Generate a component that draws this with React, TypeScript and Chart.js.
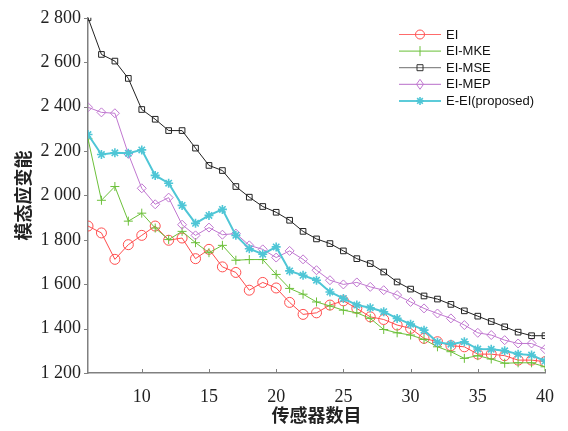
import React, { useEffect, useRef } from "react";
import { Chart, registerables } from "chart.js";

Chart.register(...registerables);

const sensorCounts = Array.from({ length: 35 }, (_, i) => 6 + i);
const xTickValues = [10, 15, 20, 25, 30, 35, 40];
const yTickValues = [1200, 1400, 1600, 1800, 2000, 2200, 2400, 2600, 2800];

const seriesEI = [1862, 1831, 1712, 1778, 1820, 1862, 1798, 1808, 1715, 1757, 1678, 1653, 1573, 1608, 1583, 1518, 1464, 1471, 1506, 1525, 1491, 1453, 1441, 1416, 1401, 1356, 1341, 1323, 1318, 1285, 1285, 1278, 1258, 1258, 1251];
const seriesMKE = [2255, 1978, 2040, 1884, 1920, 1853, 1801, 1838, 1787, 1742, 1775, 1708, 1711, 1711, 1644, 1581, 1555, 1520, 1502, 1483, 1471, 1446, 1396, 1381, 1371, 1351, 1318, 1296, 1266, 1278, 1263, 1244, 1246, 1246, 1228];
const seriesMSE = [2800, 2635, 2605, 2527, 2387, 2343, 2292, 2292, 2213, 2135, 2112, 2040, 1992, 1950, 1924, 1888, 1838, 1804, 1783, 1750, 1715, 1693, 1655, 1610, 1578, 1547, 1533, 1509, 1480, 1456, 1432, 1408, 1384, 1368, 1368];
const seriesMEP = [2397, 2374, 2370, 2187, 2032, 1960, 1990, 1868, 1820, 1855, 1823, 1828, 1775, 1757, 1720, 1750, 1712, 1663, 1618, 1599, 1608, 1588, 1573, 1551, 1520, 1491, 1468, 1446, 1416, 1381, 1371, 1348, 1333, 1333, 1307];
const seriesEEI = [2274, 2184, 2192, 2190, 2205, 2090, 2055, 1955, 1874, 1910, 1937, 1820, 1760, 1735, 1768, 1660, 1640, 1618, 1565, 1536, 1506, 1494, 1476, 1446, 1420, 1393, 1338, 1330, 1341, 1308, 1307, 1300, 1285, 1281, 1254];

const seriesNames = ["EI", "EI-MKE", "EI-MSE", "EI-MEP", "E-EI(proposed)"];
const xTitle = "传感器数目";
const yTitle = "模态应变能";

const COLORS = ["#ff4d4d", "#6cc03a", "#222222", "#c077d0", "#4fc6d6"];
const LEGEND_LINE = ["#ff6b6b", "#86cc5e", "#8a8a8a", "#c68ad4", "#5ccbd9"];
const STYLES = ["circle", "cross", "rect", "rectRot", "star"];

function fmt(v: number) {
  const s = String(Math.round(v));
  return s.length > 3 ? s.slice(0, s.length - 3) + " " + s.slice(-3) : s;
}

function drawMarker(ctx: CanvasRenderingContext2D, style: string, x: number, y: number, color: string) {
  ctx.save();
  ctx.strokeStyle = color;
  ctx.lineWidth = 1;
  ctx.beginPath();
  if (style === "circle") {
    ctx.arc(x, y, 4.5, 0, Math.PI * 2);
  } else if (style === "cross") {
    ctx.moveTo(x, y - 5);
    ctx.lineTo(x, y + 5);
  } else if (style === "rect") {
    ctx.rect(x - 3, y - 3, 6, 6);
  } else if (style === "rectRot") {
    ctx.moveTo(x, y - 5);
    ctx.lineTo(x + 3.5, y);
    ctx.lineTo(x, y + 5);
    ctx.lineTo(x - 3.5, y);
    ctx.closePath();
  } else if (style === "star") {
    ctx.lineWidth = 1.6;
    for (let k = 0; k < 4; k++) {
      const a = (k * Math.PI) / 4;
      ctx.moveTo(x - 4 * Math.cos(a), y - 4 * Math.sin(a));
      ctx.lineTo(x + 4 * Math.cos(a), y + 4 * Math.sin(a));
    }
  }
  ctx.stroke();
  ctx.restore();
}

const decorPlugin = {
  id: "decor",
  afterDraw(chart: any) {
    const ctx = chart.ctx as CanvasRenderingContext2D;
    const xs = chart.scales.x;
    const ys = chart.scales.y;
    const area = chart.chartArea;
    ctx.save();
    // tick marks
    ctx.strokeStyle = "#808080";
    ctx.lineWidth = 1;
    ctx.beginPath();
    xTickValues.forEach((v) => {
      const px = Math.round(xs.getPixelForValue(v)) + 0.5;
      ctx.moveTo(px, area.bottom);
      ctx.lineTo(px, area.bottom - 4);
    });
    yTickValues.forEach((v) => {
      const py = Math.round(ys.getPixelForValue(v)) + 0.5;
      ctx.moveTo(area.left, py);
      ctx.lineTo(area.left - 4, py);
    });
    ctx.stroke();

    // axis titles
    ctx.fillStyle = "#222";
    ctx.font = "bold 18px 'Noto Sans CJK SC'";
    ctx.textAlign = "center";
    ctx.textBaseline = "middle";
    ctx.fillText(xTitle, (area.left + area.right) / 2, 415);
    ctx.save();
    ctx.translate(23, (area.top + area.bottom) / 2);
    ctx.rotate(-Math.PI / 2);
    ctx.fillText(yTitle, 0, 0);
    ctx.restore();

    // legend
    ctx.font = "13px 'Liberation Sans'";
    ctx.textAlign = "left";
    ctx.textBaseline = "middle";
    seriesNames.forEach((name, i) => {
      const y = 34.5 + i * 16.6;
      ctx.strokeStyle = LEGEND_LINE[i];
      ctx.lineWidth = i === 4 ? 2 : 1.2;
      ctx.beginPath();
      ctx.moveTo(399, y);
      ctx.lineTo(441, y);
      ctx.stroke();
      drawMarker(ctx, STYLES[i], 420, y, i === 2 ? "#333" : COLORS[i]);
      ctx.fillStyle = "#111";
      ctx.fillText(name, 446, y + 0.5);
    });
    ctx.restore();
  },
};

export default function App() {
  const ref = useRef<HTMLCanvasElement | null>(null);
  useEffect(() => {
    document.body.style.margin = "0";
    const all = [seriesEI, seriesMKE, seriesMSE, seriesMEP, seriesEEI];
    const datasets = all.map((vals, i) => ({
      label: seriesNames[i],
      data: vals.map((v, j) => ({ x: sensorCounts[j], y: v })),
      borderColor: COLORS[i],
      backgroundColor: "rgba(0,0,0,0)",
      borderWidth: i === 4 ? 2 : 1,
      pointStyle: STYLES[i],
      pointRadius: i === 0 ? 5 : i === 2 ? 4 : 4.5,
      pointBorderColor: COLORS[i],
      pointBorderWidth: i === 4 ? 1.6 : 1,
      pointBackgroundColor: "rgba(0,0,0,0)",
      tension: 0,
      order: 4 - i,
    }));
    const chart = new Chart(ref.current as HTMLCanvasElement, {
      type: "line",
      data: { datasets },
      options: {
        animation: false,
        responsive: false,
        devicePixelRatio: 1,
        layout: { padding: { left: 0, top: 17, right: 23, bottom: 0 } },
        plugins: { legend: { display: false }, tooltip: { enabled: false } },
        scales: {
          x: {
            type: "linear",
            min: 6,
            max: 40,
            grid: { display: false, drawTicks: false },
            border: { display: true, color: "#808080", width: 1.5 },
            afterBuildTicks: (s: any) => {
              s.ticks = xTickValues.map((v) => ({ value: v }));
            },
            afterFit: (s: any) => {
              s.height = 58;
            },
            ticks: {
              padding: 13,
              color: "#222",
              font: { family: "'Liberation Serif'", size: 18 },
              maxRotation: 0,
              autoSkip: false,
              callback: (v: any) => String(v),
            },
          },
          y: {
            type: "linear",
            min: 1200,
            max: 2800,
            grid: { display: false, drawTicks: false },
            border: { display: true, color: "#808080", width: 1.5 },
            afterBuildTicks: (s: any) => {
              s.ticks = yTickValues.map((v) => ({ value: v }));
            },
            afterFit: (s: any) => {
              s.width = 88;
            },
            ticks: {
              padding: 7,
              color: "#222",
              font: { family: "'Liberation Serif'", size: 18 },
              autoSkip: false,
              callback: (v: any) => fmt(Number(v)),
            },
          },
        },
      },
      plugins: [decorPlugin],
    });
    return () => chart.destroy();
  }, []);
  return (
    <div style={{ width: 568, height: 431, background: "#fff" }}>
      <canvas ref={ref} width={568} height={431} style={{ display: "block" }} />
    </div>
  );
}
